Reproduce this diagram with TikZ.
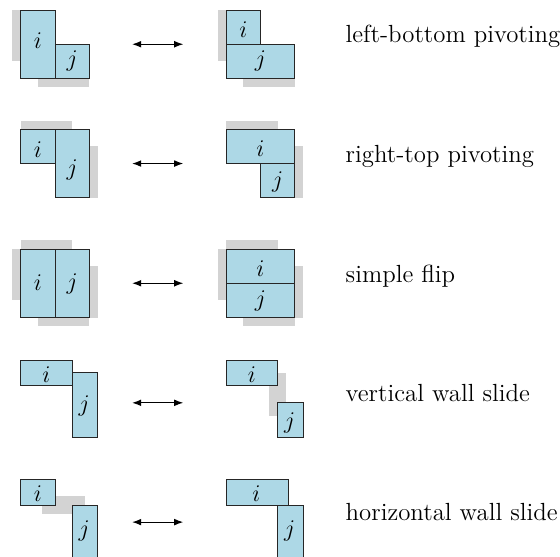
\documentclass[tikz,border=0pt]{standalone}
\usetikzlibrary{arrows.meta}
\definecolor{boxblue}{RGB}{173,216,230}
\definecolor{shadegray}{RGB}{211,211,211}
\begin{document}
\begin{tikzpicture}[x=0.5pt,y=-0.5pt,
  blk/.style={draw=black!85, fill=boxblue, line width=0.45pt},
  shd/.style={fill=shadegray, draw=none},
  biarrow/.style={{Latex[length=4.6pt,width=3.4pt]}-{Latex[length=4.6pt,width=3.4pt]}, line width=0.6pt},
  lbl/.style={anchor=base west, inner sep=0pt, font=\fontsize{12.4}{14}\selectfont},
  var/.style={inner sep=0pt, font=\fontsize{12.4}{14}\selectfont},
  unitgrid/.style={x=17.125pt, y=-17.125pt}]
\useasboundingbox (0,0) rectangle (560,556);
\clip (0,0) rectangle (560,556);

% Row 1: left-bottom pivoting
\begin{scope}[shift={(20.7,10)}, unitgrid]
  \fill[shd] (-0.25,0) rectangle (0,1.5);
  \fill[shd] (0.5,2) rectangle (2,2.25);
  \draw[blk] (0,0) rectangle (1,2);
  \draw[blk] (1,1) rectangle (2,2);
  \node[var] (i1a) at (0.5,0.88) {$i$};
  \node[var] (j1a) at (1.5,1.48) {$j$};
  \fill[shd] (5.75,0) rectangle (6,1.5);
  \fill[shd] (6.5,2) rectangle (8,2.25);
  \draw[blk] (6,0) rectangle (7,1);
  \draw[blk] (6,1) rectangle (8,2);
  \node[var] (i1b) at (6.5,0.58) {$i$};
  \node[var] (j1b) at (7,1.48) {$j$};
  \coordinate (p1a) at (3.25,1);
  \coordinate (p1b) at (4.75,1);
  \draw[biarrow] (p1a) -- (p1b);
\end{scope}

% Row 2: right-top pivoting
\begin{scope}[shift={(20.7,129.3)}, unitgrid]
  \fill[shd] (0,-0.25) rectangle (1.5,0);
  \fill[shd] (2,0.5) rectangle (2.25,2);
  \draw[blk] (0,0) rectangle (1,1);
  \draw[blk] (1,0) rectangle (2,2);
  \node[var] (i2a) at (0.5,0.58) {$i$};
  \node[var] (j2a) at (1.5,1.2) {$j$};
  \fill[shd] (6,-0.25) rectangle (7.5,0);
  \fill[shd] (8,0.5) rectangle (8.25,2);
  \draw[blk] (6,0) rectangle (8,1);
  \draw[blk] (7,1) rectangle (8,2);
  \node[var] (i2b) at (7,0.56) {$i$};
  \node[var] (j2b) at (7.5,1.55) {$j$};
  \coordinate (p2a) at (3.25,1);
  \coordinate (p2b) at (4.75,1);
  \draw[biarrow] (p2a) -- (p2b);
\end{scope}

% Row 3: simple flip
\begin{scope}[shift={(20.7,249)}, unitgrid]
  \fill[shd] (0,-0.25) rectangle (1.5,0);
  \fill[shd] (-0.25,0) rectangle (0,1.5);
  \fill[shd] (2,0.5) rectangle (2.25,2);
  \fill[shd] (0.5,2) rectangle (2,2.25);
  \draw[blk] (0,0) rectangle (1,2);
  \draw[blk] (1,0) rectangle (2,2);
  \node[var] (i3a) at (0.5,0.97) {$i$};
  \node[var] (j3a) at (1.5,1.02) {$j$};
  \fill[shd] (6,-0.25) rectangle (7.5,0);
  \fill[shd] (5.75,0) rectangle (6,1.5);
  \fill[shd] (8,0.5) rectangle (8.25,2);
  \fill[shd] (6.5,2) rectangle (8,2.25);
  \draw[blk] (6,0) rectangle (8,1);
  \draw[blk] (6,1) rectangle (8,2);
  \node[var] (i3b) at (7,0.58) {$i$};
  \node[var] (j3b) at (7,1.52) {$j$};
  \coordinate (p3a) at (3.25,1);
  \coordinate (p3b) at (4.75,1);
  \draw[biarrow] (p3a) -- (p3b);
\end{scope}

% Row 4: vertical wall slide
\begin{scope}[shift={(20.7,360)}, unitgrid]
  \draw[blk] (0,0) rectangle (1.5,0.75);
  \draw[blk] (1.5,0.375) rectangle (2.25,2.25);
  \node[var] (i4a) at (0.75,0.42) {$i$};
  \node[var] (j4a) at (1.85,1.35) {$j$};
  \fill[shd] (7.25,0.375) rectangle (7.75,1.625);
  \draw[blk] (6,0) rectangle (7.5,0.75);
  \draw[blk] (7.5,1.25) rectangle (8.25,2.25);
  \node[var] (i4b) at (6.75,0.42) {$i$};
  \node[var] (j4b) at (7.85,1.85) {$j$};
  \coordinate (p4a) at (3.25,1.25);
  \coordinate (p4b) at (4.75,1.25);
  \draw[biarrow] (p4a) -- (p4b);
\end{scope}

% Row 5: horizontal wall slide
\begin{scope}[shift={(20.7,479.3)}, unitgrid]
  \fill[shd] (0.625,0.5) rectangle (1.875,1);
  \draw[blk] (0,0) rectangle (1,0.75);
  \draw[blk] (1.5,0.75) rectangle (2.25,2.625);
  \node[var] (i5a) at (0.5,0.42) {$i$};
  \node[var] (j5a) at (1.85,1.52) {$j$};
  \draw[blk] (6,0) rectangle (7.83,0.75);
  \draw[blk] (7.5,0.75) rectangle (8.25,2.625);
  \node[var] (i5b) at (6.88,0.42) {$i$};
  \node[var] (j5b) at (7.85,1.52) {$j$};
  \coordinate (p5a) at (3.25,1.25);
  \coordinate (p5b) at (4.75,1.25);
  \draw[biarrow] (p5a) -- (p5b);
\end{scope}

% Labels
\node[lbl] (t1) at (345.3,43) {left-bottom pivoting};
\node[lbl] (t2) at (345.3,162.3) {right-top pivoting};
\node[lbl] (t3) at (345.3,282.3) {simple flip};
\node[lbl] (t4) at (345.3,401.3) {vertical wall slide};
\node[lbl] (t5) at (345.3,520.7) {horizontal wall slide};
\end{tikzpicture}
\end{document}
